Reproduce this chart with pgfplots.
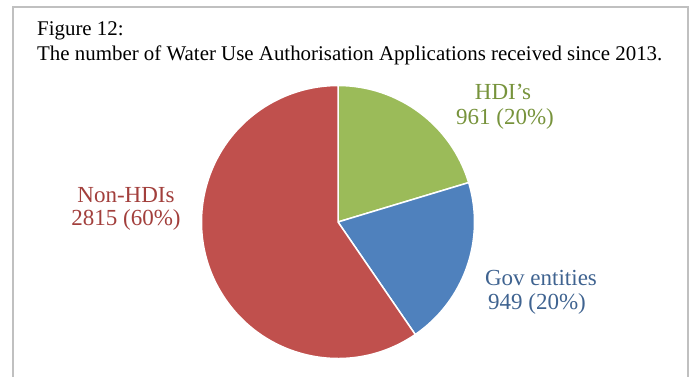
\documentclass[border=0pt]{standalone}
\usepackage{pgfplots}
\pgfplotsset{compat=1.18}
\usepackage{pgfplotstable}
\usepackage{fontspec}
\setmainfont{Liberation Serif}
\definecolor{pgreen}{HTML}{9BBB59}
\definecolor{pblue}{HTML}{4F81BD}
\definecolor{pred}{HTML}{C0504D}
\definecolor{tgreen}{HTML}{77933C}
\definecolor{tblue}{HTML}{3F6390}
\definecolor{tred}{HTML}{A23F3C}
\definecolor{framegray}{HTML}{C0C0C0}
\pgfplotstableread{
label value
HDI 961
Gov 949
NonHDI 2815
}\piedata
\begin{document}
\begin{tikzpicture}[x=1pt,y=1pt]
\useasboundingbox (0,0) rectangle (691,376);
\draw[framegray, line width=1.2pt] (13,-3) -- (13,369) -- (688,369) -- (688,-3);
\node[anchor=base west, inner sep=0pt, font=\fontsize{20.9}{24}\selectfont] at (37,341) {Figure 12:};
\node[anchor=base west, inner sep=0pt, font=\fontsize{20.9}{24}\selectfont] at (37,316) {The number of Water Use Authorisation Applications received since 2013.};
\pgfplotstablegetelem{0}{value}\of\piedata \let\va\pgfplotsretval
\pgfplotstablegetelem{1}{value}\of\piedata \let\vb\pgfplotsretval
\pgfplotstablegetelem{2}{value}\of\piedata \let\vc\pgfplotsretval
\pgfmathsetmacro{\tot}{\va+\vb+\vc}
\pgfmathsetmacro{\fa}{\va/\tot}
\pgfmathsetmacro{\fb}{\vb/\tot}
\pgfmathsetmacro{\aA}{90}
\pgfmathsetmacro{\aB}{90-360*\fa}
\pgfmathsetmacro{\aC}{\aB-360*\fb}
\pgfmathsetmacro{\aD}{-270}
\begin{axis}[at={(338pt,154pt)}, anchor=center, width=273pt, height=273pt,
  scale only axis, xmin=-1, xmax=1, ymin=-1, ymax=1, hide axis, clip=false]
\fill[pgreen, draw=white, line width=1.5pt] (axis cs:0,0) -- (axis cs:{cos(\aA)},{sin(\aA)}) arc[start angle=\aA, end angle=\aB, radius=136.5pt] -- cycle;
\fill[pblue, draw=white, line width=1.5pt] (axis cs:0,0) -- (axis cs:{cos(\aB)},{sin(\aB)}) arc[start angle=\aB, end angle=\aC, radius=136.5pt] -- cycle;
\fill[pred, draw=white, line width=1.5pt] (axis cs:0,0) -- (axis cs:{cos(\aC)},{sin(\aC)}) arc[start angle=\aC, end angle=\aD, radius=136.5pt] -- cycle;
\end{axis}
\begin{scope}[every node/.style={anchor=base, inner sep=0pt, font=\fontsize{23}{27}\selectfont}]
\node[text=tgreen] at (503,277) {HDI’s};
\node[text=tgreen] at (505,252) {961 (20\%)};
\node[text=tblue] at (541,91) {Gov entities};
\node[text=tblue] at (537,67) {949 (20\%)};
\node[text=tred] at (126,174) {Non-HDIs};
\node[text=tred] at (126,151) {2815 (60\%)};
\end{scope}
\end{tikzpicture}
\end{document}
